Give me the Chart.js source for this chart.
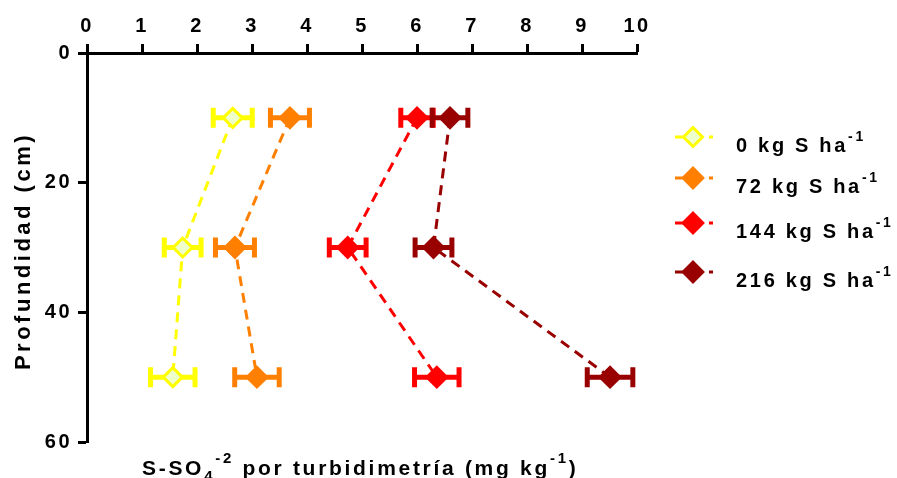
<!DOCTYPE html>
<html>
<head>
<meta charset="utf-8">
<script src="https://cdn.jsdelivr.net/npm/chart.js@4/dist/chart.umd.min.js"></script>
<style>
  html, body { margin: 0; padding: 0; background: #fff; }
  #wrap { width: 897px; height: 478px; position: relative; }
</style>
</head>
<body>
<div id="wrap"><canvas id="c"></canvas></div>
<script>
// depth of each sample (cm)
const depths = [10, 30, 50]

// S-SO4 means per dose, one value per depth
const s0 = [2.65, 1.74, 1.56]
const s72 = [3.69, 2.69, 3.09]
const s144 = [6.0, 4.74, 6.36]
const s216 = [6.6, 6.3, 9.51]

// error (+/-) per point
const e0 = [0.40, 0.38, 0.45]
const e72 = [0.40, 0.40, 0.45]
const e144 = [0.34, 0.38, 0.45]
const e216 = [0.37, 0.38, 0.46]

const doseLabels = ['0', '72', '144', '216']
const xTicks = [0, 1, 2, 3, 4, 5, 6, 7, 8, 9, 10]
const yTicks = [0, 20, 40, 60]

const colors = ['#FFFF00', '#FF8000', '#FF0000', '#990000']
const fills = ['#EEFFCC', '#FF8000', '#FF0000', '#990000']

const series = [s0, s72, s144, s216]
const errors = [e0, e72, e144, e216]

const FONT = '"Liberation Sans", Arial, sans-serif'

function pts(vals) {
  return vals.map((v, i) => ({ x: v, y: depths[i] }))
}

const datasets = series.map((vals, i) => ({
  label: doseLabels[i] + ' kg S ha-1',
  data: pts(vals),
  showLine: true,
  borderColor: colors[i],
  borderWidth: 3,
  borderDash: [10, 7],
  pointStyle: 'rectRot',
  pointRadius: i === 0 ? 9.5 : 10.5,
  pointHoverRadius: i === 0 ? 9.5 : 10.5,
  pointBorderWidth: i === 0 ? 3 : 2,
  pointBackgroundColor: fills[i],
  pointBorderColor: colors[i],
  errs: errors[i],
}))

// horizontal error bars, drawn under lines and markers
const errorBars = {
  id: 'errorBars',
  beforeDatasetsDraw(chart) {
    const ctx = chart.ctx
    const xs = chart.scales.x
    const ys = chart.scales.y
    ctx.save()
    chart.data.datasets.forEach((ds) => {
      ctx.strokeStyle = ds.borderColor
      ctx.lineWidth = 5
      ctx.lineCap = 'butt'
      ds.data.forEach((p, j) => {
        const err = ds.errs[j]
        const x1 = xs.getPixelForValue(p.x - err)
        const x2 = xs.getPixelForValue(p.x + err)
        const y = ys.getPixelForValue(p.y)
        ctx.beginPath()
        ctx.moveTo(x1, y)
        ctx.lineTo(x2, y)
        ctx.moveTo(x1 + 2.5, y - 10)
        ctx.lineTo(x1 + 2.5, y + 10)
        ctx.moveTo(x2 - 2.5, y - 10)
        ctx.lineTo(x2 - 2.5, y + 10)
        ctx.stroke()
      })
    })
    ctx.restore()
  },
}

// text drawn in pieces so sub/superscripts stay real text
function drawRich(ctx, parts, x, y, size) {
  let cx = x
  parts.forEach((p) => {
    const fs = p.sub || p.sup ? Math.round(size * 0.72) : size
    ctx.font = 'bold ' + fs + 'px ' + FONT
    let dy = 0
    if (p.sub) dy = size * 0.3
    if (p.sup) dy = -size * 0.55
    ctx.fillText(p.t, cx, y + dy)
    cx += ctx.measureText(p.t).width
  })
  return cx
}

function diamond(ctx, x, y, r) {
  ctx.beginPath()
  ctx.moveTo(x - r, y)
  ctx.lineTo(x, y - r)
  ctx.lineTo(x + r, y)
  ctx.lineTo(x, y + r)
  ctx.closePath()
}

const extras = {
  id: 'extras',
  beforeDraw(chart) {
    chart.ctx.letterSpacing = '2.5px'
  },
  afterDraw(chart) {
    const ctx = chart.ctx
    ctx.save()
    ctx.fillStyle = '#000'
    ctx.textBaseline = 'alphabetic'
    ctx.textAlign = 'left'

    // x axis title (below the plot, axis itself is on top)
    ctx.letterSpacing = '2.7px'
    drawRich(ctx, [
      { t: 'S-SO' }, { t: '4', sub: true }, { t: '-2', sup: true },
      { t: ' por turbidimetría (mg kg' }, { t: '-1', sup: true }, { t: ')' },
    ], 142, 475, 21)

    // y axis title
    ctx.save()
    ctx.letterSpacing = '3.5px'
    ctx.translate(30, 251)
    ctx.rotate(-Math.PI / 2)
    ctx.font = 'bold 22px ' + FONT
    ctx.textAlign = 'center'
    ctx.fillText('Profundidad (cm)', 0, 0)
    ctx.restore()

    // legend
    ctx.letterSpacing = '2.7px'
    const rows = [137, 178, 223, 272]
    chart.data.datasets.forEach((ds, i) => {
      const y = rows[i]
      ctx.strokeStyle = colors[i]
      ctx.lineWidth = 3
      ctx.setLineDash([])
      ctx.beginPath()
      ctx.moveTo(675, y)
      ctx.lineTo(693, y)
      ctx.moveTo(709, y)
      ctx.lineTo(713, y)
      ctx.stroke()
      diamond(ctx, 693, y, i === 0 ? 9.5 : 10.5)
      ctx.fillStyle = fills[i]
      ctx.fill()
      ctx.lineWidth = i === 0 ? 3 : 2
      ctx.stroke()
      ctx.fillStyle = '#000'
      drawRich(ctx, [
        { t: doseLabels[i] + ' kg S ha' }, { t: '-1', sup: true },
      ], 736, y + 15, 20)
    })
    ctx.restore()
  },
}

const axisCommon = {
  border: { display: true, color: '#000', width: 3 },
  grid: {
    drawOnChartArea: false,
    drawTicks: true,
    tickLength: 9,
    tickWidth: 3,
    tickColor: '#000',
  },
}

new Chart(document.getElementById('c'), {
  type: 'scatter',
  data: { datasets },
  options: {
    responsive: true,
    maintainAspectRatio: false,
    animation: false,
    layout: { padding: { left: 0, top: 0, right: 260, bottom: 36 } },
    plugins: { legend: { display: false }, tooltip: { enabled: false } },
    scales: {
      x: {
        ...axisCommon,
        position: 'top',
        min: 0,
        max: 10,
        afterBuildTicks: (s) => { s.ticks = xTicks.map((v) => ({ value: v })) },
        ticks: { color: '#000', padding: 6, font: { family: FONT, size: 20, weight: 'bold' } },
        afterFit: (s) => { s.height = 53 },
      },
      y: {
        ...axisCommon,
        reverse: true,
        min: 0,
        max: 60,
        afterBuildTicks: (s) => { s.ticks = yTicks.map((v) => ({ value: v })) },
        ticks: { color: '#000', padding: 6, font: { family: FONT, size: 20, weight: 'bold' } },
        afterFit: (s) => { s.width = 87 },
      },
    },
  },
  plugins: [errorBars, extras],
})
</script>
</body>
</html>
